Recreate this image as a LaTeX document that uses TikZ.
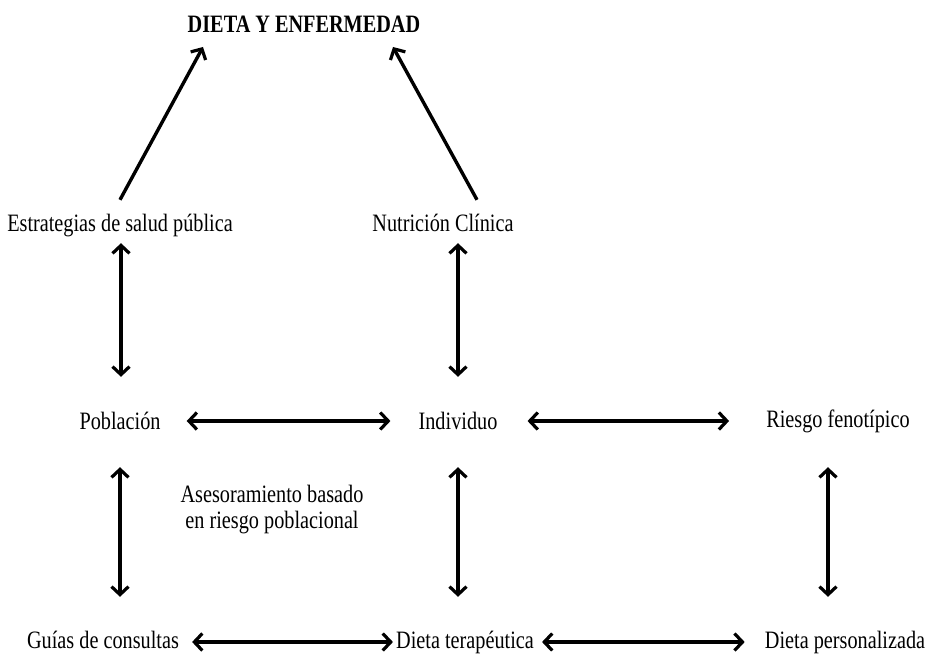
\documentclass[tikz,border=0pt]{standalone}
\usepackage{fontspec}
\setmainfont[FakeStretch=0.81]{Liberation Serif}
\usetikzlibrary{arrows.meta}
\begin{document}
\begin{tikzpicture}[x=1pt,y=-1pt,
  lbl/.style={inner sep=0pt,anchor=base,text height=18pt,text depth=6pt,font=\fontsize{25}{26}\selectfont},
  ttl/.style={lbl,font=\fontsize{25}{26}\selectfont\bfseries},
  arr/.style={line width=3.4pt,{Straight Barb[length=8pt,width=17pt,line width=3.2pt]}-{Straight Barb[length=8pt,width=17pt,line width=3.2pt]}},
  uarr/.style={line width=3.4pt,-{Straight Barb[length=8pt,width=17pt,line width=3.2pt]}}]
\useasboundingbox (0,0) rectangle (930,660);
\node[ttl] (t) at (304,33) {DIETA Y ENFERMEDAD};
\node[lbl] (est) at (120,232) {Estrategias de salud pública};
\node[lbl] (nut) at (443,232) {Nutrición Clínica};
\node[lbl] (pob) at (120,430) {Población};
\node[lbl] (ind) at (458,430) {Individuo};
\node[lbl] (rie) at (838,428) {Riesgo fenotípico};
\node[inner sep=0pt,anchor=base,align=center,font=\fontsize{25}{27}\selectfont] (ase) at (272,529) {Asesoramiento basado\\en riesgo poblacional};
\node[lbl] (gui) at (103,648) {Guías de consultas};
\node[lbl] (die) at (465,648) {Dieta terapéutica};
\node[lbl] (per) at (845,648) {Dieta personalizada};
\coordinate (tl) at (203,47);
\coordinate (tr) at (393,47);
\draw[uarr] ([yshift=14pt]est.north) -- (tl);
\draw[uarr] ([xshift=34pt,yshift=14pt]nut.north) -- (tr);
\draw[arr,shorten <=5pt,shorten >=35pt] ([xshift=1pt]est.south) -- ([xshift=1pt]pob.north);
\draw[arr,shorten <=5pt,shorten >=35pt] (nut.south -| ind.north) -- (ind.north);
\draw[arr,shorten <=31pt,shorten >=33pt] (pob.south) -- (pob.south |- gui.north);
\draw[arr,shorten <=31pt,shorten >=33pt] (ind.south) -- (ind.south |- die.north);
\draw[arr,shorten <=33pt,shorten >=33pt] ([xshift=-10pt]rie.south) -- ([xshift=-10pt]rie.south |- per.north);
\draw[arr,shorten <=26pt,shorten >=28pt] ([yshift=3pt]pob.east) -- ([yshift=3pt]ind.west);
\draw[arr,shorten <=30pt,shorten >=37pt] ([yshift=3pt]ind.east) -- ([yshift=3pt]ind.east -| rie.west);
\draw[arr,shorten <=13pt,shorten >=3pt] (gui.east) -- (die.west);
\draw[arr,shorten <=8pt,shorten >=20pt] (die.east) -- (per.west);
\end{tikzpicture}
\end{document}
